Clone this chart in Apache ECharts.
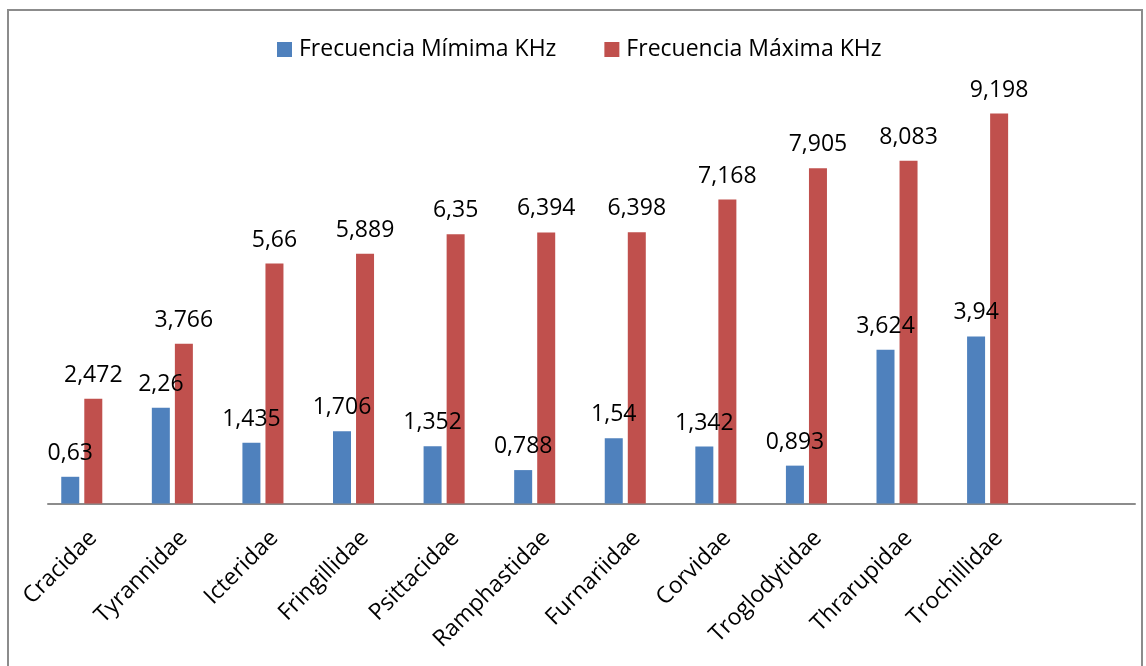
<!DOCTYPE html>
<html>
<head>
<meta charset="utf-8">
<script src="https://cdn.jsdelivr.net/npm/echarts@6/dist/echarts.min.js"></script>
<style>
  html, body { margin: 0; padding: 0; background: #fff; }
  #chart { width: 1146px; height: 666px; }
</style>
</head>
<body>
<div id="chart"></div>
<script>
  // familias (la última casilla va vacía, como en el original)
  var familias = ['Cracidae', 'Tyrannidae', 'Icteridae', 'Fringillidae', 'Psittacidae',
    'Ramphastidae', 'Furnariidae', 'Corvidae', 'Troglodytidae', 'Thrarupidae', 'Trochillidae', ''];
  var freqMin = [0.63, 2.26, 1.435, 1.706, 1.352, 0.788, 1.54, 1.342, 0.893, 3.624, 3.94, null];
  var freqMax = [2.472, 3.766, 5.66, 5.889, 6.35, 6.394, 6.398, 7.168, 7.905, 8.083, 9.198, null];
  // serie vacía que deja el hueco a la derecha de cada grupo
  var serieVacia = [null, null, null, null, null, null, null, null, null, null, null, null];

  var fuente = 'Open Sans';
  var tam = 23;

  function etiqueta(p) {
    return String(p.value).replace('.', ',');
  }

  var chart = echarts.init(document.getElementById('chart'));
  chart.setOption({
    animation: false,
    backgroundColor: '#fff',
    textStyle: { fontFamily: fuente },
    graphic: [{
      type: 'rect',
      shape: { x: 8, y: 10, width: 1134, height: 680 },
      style: { fill: 'none', stroke: '#8c8c8c', lineWidth: 2 },
      silent: true
    }],
    legend: {
      data: ['Frecuencia Mímima KHz', 'Frecuencia Máxima KHz'],
      left: 272,
      top: 33,
      itemWidth: 15,
      itemHeight: 15,
      itemGap: 48,
      icon: 'rect',
      textStyle: { fontFamily: fuente, fontSize: tam, color: '#000', padding: [0, 0, 0, 2] }
    },
    grid: { left: 48, right: 11, top: 79.5, bottom: 162.5, containLabel: false },
    xAxis: {
      type: 'category',
      data: familias,
      axisLine: { lineStyle: { color: '#8c8c8c', width: 2 } },
      axisTick: { show: false },
      axisLabel: {
        interval: 0,
        rotate: 45,
        margin: 31,
        fontFamily: fuente,
        fontSize: tam,
        color: '#000'
      }
    },
    yAxis: {
      type: 'value',
      min: 0,
      max: 10,
      show: false,
      splitLine: { show: false }
    },
    series: [{
      name: 'Frecuencia Mímima KHz',
      type: 'bar',
      data: freqMin,
      barWidth: 18,
      barGap: '28%',
      itemStyle: { color: '#4f81bd' },
      label: {
        show: true, position: 'top', distance: 12,
        fontFamily: fuente, fontSize: tam, color: '#000',
        formatter: etiqueta
      }
    }, {
      name: 'Frecuencia Máxima KHz',
      type: 'bar',
      data: freqMax,
      barWidth: 18,
      barGap: '28%',
      itemStyle: { color: '#c0504d' },
      label: {
        show: true, position: 'top', distance: 12,
        fontFamily: fuente, fontSize: tam, color: '#000',
        formatter: etiqueta
      }
    }, {
      name: 'Serie 3',
      type: 'bar',
      data: serieVacia,
      barWidth: 18,
      barGap: '28%',
      itemStyle: { color: '#9bbb59' }
    }]
  });
</script>
</body>
</html>
